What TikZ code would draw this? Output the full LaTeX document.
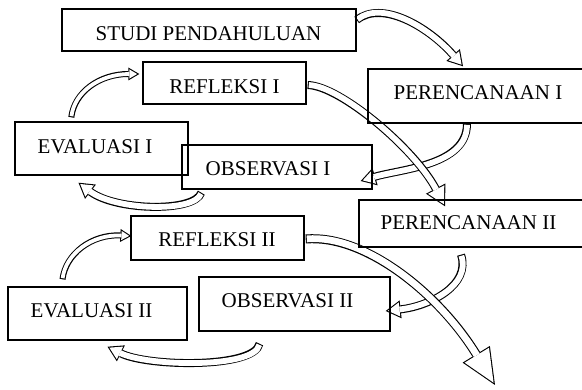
\documentclass[tikz,border=0pt]{standalone}
\usepackage{fontspec}
\setmainfont{Liberation Serif}
\usetikzlibrary{arrows.meta,calc}
\pgfdeclarelayer{bg}
\pgfsetlayers{bg,main}
\newcommand\lbfont{\fontsize{21}{25}\selectfont}
\begin{document}
\begin{tikzpicture}[x=1pt,y=-1pt,
  box/.style={draw, line width=1.4pt, rectangle, inner sep=0pt},
  lbl/.style={anchor=base, inner sep=0pt, font=\lbfont},
  bsmall/.style={line width=6pt, -{Triangle[length=11pt,width=13pt,line width=0pt]},
    postaction={draw=white, line width=3.8pt, shorten >=2.16pt, shorten <=1.1pt,
      -{Triangle[length=7.74pt,width=9.15pt,line width=0pt]}}},
  bmed/.style={line width=8pt, -{Triangle[length=15pt,width=18pt,line width=0pt]},
    postaction={draw=white, line width=5.8pt, shorten >=2.14pt, shorten <=1.1pt,
      -{Triangle[length=11.76pt,width=14.11pt,line width=0pt]}}},
  blarge/.style={line width=8pt, -{Triangle[length=20pt,width=22pt,line width=0pt]},
    postaction={draw=white, line width=5.8pt, shorten >=2.28pt, shorten <=1.1pt,
      -{Triangle[length=16.62pt,width=18.28pt,line width=0pt]}}},
  bhuge/.style={line width=9pt, -{Triangle[length=36pt,width=32pt,line width=0pt]},
    postaction={draw=white, line width=6.8pt, shorten >=2.71pt, shorten <=1.1pt,
      -{Triangle[length=32.19pt,width=28.6pt,line width=0pt]}}},
]
\useasboundingbox (0,0) rectangle (582,390);

% boxes
\node[box, minimum width=294pt, minimum height=42pt] (studi) at (209,30) {};
\node[box, minimum width=163pt, minimum height=42pt] (refl1) at (224.5,83) {};
\node[box, minimum width=217pt, minimum height=54pt] (per1) at (476.5,96) {};
\node[box, minimum width=173pt, minimum height=53pt] (eval1) at (101.5,148.5) {};
\node[box, minimum width=190pt, minimum height=44pt] (obs1) at (277,167) {};
\node[box, minimum width=226pt, minimum height=47pt] (per2) at (472,223.5) {};
\node[box, minimum width=173pt, minimum height=44pt] (refl2) at (217.5,238) {};
\node[box, minimum width=179pt, minimum height=53pt] (eval2) at (97.5,313.5) {};
\node[box, minimum width=191pt, minimum height=54pt] (obs2) at (294.5,304) {};

% labels
\node[lbl] (tstudi) at (208.5,41) {STUDI PENDAHULUAN};
\node[lbl] (trefl1) at (224.5,94) {REFLEKSI I};
\node[lbl] (tper1) at (478,100) {PERENCANAAN I};
\node[lbl] (teval1) at (95,154) {EVALUASI I};
\node[lbl] (tobs1) at (268,176) {OBSERVASI I};
\node[lbl] (tper2) at (468.5,230) {PERENCANAAN II};
\node[lbl] (trefl2) at (217,247) {REFLEKSI II};
\node[lbl] (teval2) at (91.5,318) {EVALUASI II};
\node[lbl] (tobs2) at (287.5,308) {OBSERVASI II};

\coordinate (endpt) at (495,385);

\begin{pgfonlayer}{bg}
\draw[bmed] ($(studi.east)+(0,-10)$) .. controls +(25,-20) and +(-35,-40) .. ($(per1.north)+(-13.5,-2)$);
\draw[bmed] ($(per1.south)+(-9.5,0)$) .. controls +(0,42) and +(40,-12) .. ($(obs1.east)+(-12,14)$);
\draw[bmed] ($(obs1.south west)+(20,3)$) .. controls +(-7,20) and +(37,28) .. ($(eval1.south)+(-23,7)$);
\draw[bsmall] ($(eval1.north west)+(57,-4)$) .. controls +(3,-25) and +(-40,0) .. ($(refl1.west)+(-3,-9)$);
\draw[blarge] ($(refl1.east)+(1,2)$) .. controls +(33,1) and +(-30,-57) .. ($(per2.north)+(-27,7)$);
\draw[bmed] ($(per2.south)+(-11,7)$) .. controls +(10,30) and +(45,-5) .. ($(obs2.east)+(-5,7)$);
\draw[bmed] ($(obs2.south)+(-35,12)$) .. controls +(-5,25) and +(40,20) .. ($(eval2.south)+(10,6)$);
\draw[bsmall] ($(eval2.north)+(-35,-7)$) .. controls +(3,-25) and +(-40,-2) .. ($(refl2.west)+(1,-2)$);
\draw[bhuge] ($(refl2.east)+(1,1)$) .. controls +(60,-5) and +(-55,-90) .. (endpt);
\end{pgfonlayer}
\end{tikzpicture}
\end{document}
